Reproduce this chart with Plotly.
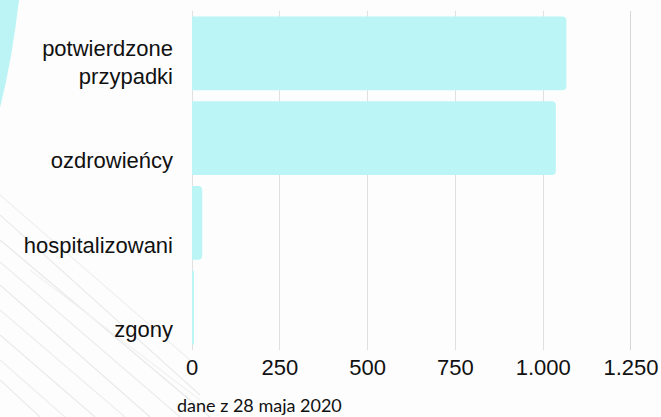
import plotly.graph_objects as go

categories = ["potwierdzone<br>przypadki", "ozdrowieńcy", "hospitalizowani", "zgony"]
values = [1066, 1036, 29, 4]
tick_values = [0, 250, 500, 750, 1000, 1250]
note_text = "dane z 28 maja 2020"

W, H = 661, 417
ml, mr, mt, mb = 192, 30, 11, 67
pw, ph = W - ml - mr, H - mt - mb

def px(x):
    return (x - ml) / pw

def py(y):
    return (H - mb - y) / ph

positions = list(range(len(categories)))
# labels in the reference sit a bit below the bar centres (baseline-anchored)
label_pos = [p + (0.106 if "<br>" in c else 0.26) for p, c in zip(positions, categories)]

fig = go.Figure()
fig.add_trace(go.Bar(
    x=values, y=positions, orientation="h",
    width=0.873,
    marker=dict(color="#bcf5f6", line=dict(width=0)),
    customdata=[c.replace("<br>", " ") for c in categories],
    hovertemplate="%{customdata}: %{x}<extra></extra>",
))

shapes = []
# decorative cyan curve top-left
path = (f"M {px(0)},{py(0)} L {px(19)},{py(0)} "
        f"Q {px(12)},{py(60)} {px(0)},{py(108)} Z")
shapes.append(dict(type="path", xref="paper", yref="paper", path=path,
                   fillcolor="#bcf4f5", line=dict(width=0), layer="below"))
# faint diagonal lines bottom-left
for (x0, y0, x1, y1, c) in [
    (0, 195, 190, 360, "#f0f0f0"), (0, 215, 200, 395, "#ebebeb"),
    (0, 240, 210, 417, "#e8e8e8"), (0, 262, 180, 417, "#ececec"),
    (0, 285, 150, 417, "#e9e9e9"), (0, 310, 125, 417, "#ededed"),
    (0, 335, 95, 417, "#eaeaea"), (0, 360, 65, 417, "#eeeeee"),
    (30, 270, 200, 400, "#f2f2f2"), (0, 380, 40, 417, "#ebebeb"),
]:
    shapes.append(dict(type="line", xref="paper", yref="paper",
                       x0=px(x0), y0=py(y0), x1=px(x1), y1=py(y1),
                       line=dict(color=c, width=1.2), layer="below"))
# right border line at 1250
shapes.append(dict(type="line", xref="x", yref="paper", x0=1250, x1=1250,
                   y0=0, y1=1, line=dict(color="#bdbdbd", width=1.2), layer="below"))

fig.update_layout(
    width=W, height=H,
    margin=dict(l=ml, r=mr, t=mt, b=mb, autoexpand=False),
    paper_bgcolor="#fdfdfd", plot_bgcolor="#fdfdfd",
    separators=",.",
    barcornerradius=4,
    showlegend=False,
    font=dict(family="Liberation Sans, Arial, sans-serif", size=22, color="#111111"),
    shapes=shapes,
    xaxis=dict(range=[0, 1250], tickvals=tick_values, tickformat=",d",
               showgrid=True, gridcolor="#e0e0e0", gridwidth=1,
               zeroline=True, zerolinecolor="#e0e0e0", zerolinewidth=1,
               showline=False, ticks="", ticklabelstandoff=2,
               automargin=False, fixedrange=True),
    yaxis=dict(range=[len(categories) - 0.5, -0.5],
               tickvals=label_pos, ticktext=categories,
               showgrid=False, zeroline=False, showline=False, ticks="",
               ticklabelstandoff=18, automargin=False, fixedrange=True),
    annotations=[dict(text=note_text, xref="paper", yref="paper",
                      x=px(175), y=py(405), xanchor="left", yanchor="middle",
                      showarrow=False,
                      font=dict(family="Lato, sans-serif", size=18, color="#111111"))],
)

fig.write_html("out.html", config={"displayModeBar": False},
               post_script="document.body.style.margin='0';")
